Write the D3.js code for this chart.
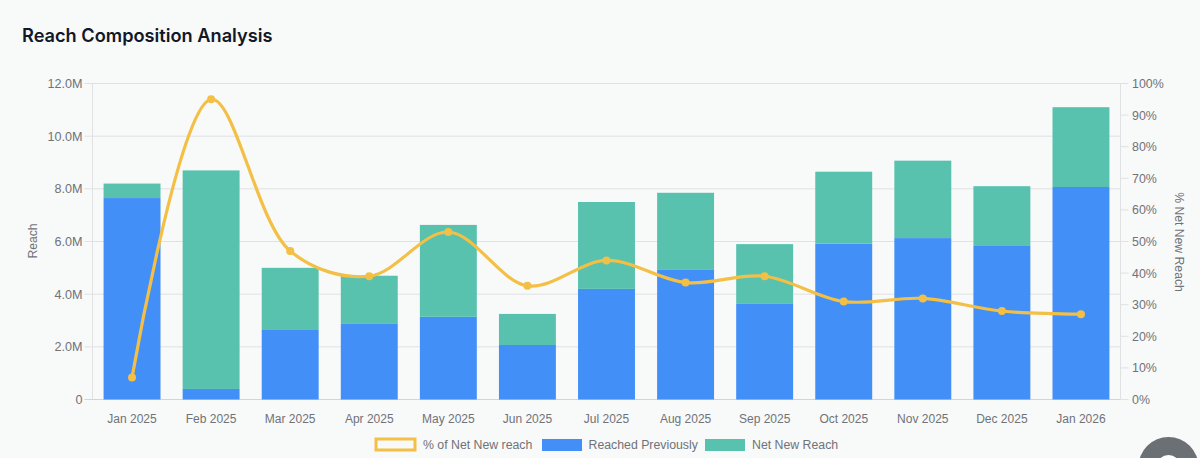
<!DOCTYPE html>
<html><head><meta charset="utf-8">
<script src="https://cdnjs.cloudflare.com/ajax/libs/d3/7.8.5/d3.min.js"></script>
<style>html,body{margin:0;padding:0;background:#fff;overflow:hidden}svg{display:block}</style>
</head><body><svg id="c" width="1200" height="458"></svg>
<script>
const months=["Jan 2025","Feb 2025","Mar 2025","Apr 2025","May 2025","Jun 2025","Jul 2025","Aug 2025","Sep 2025","Oct 2025","Nov 2025","Dec 2025","Jan 2026"];
const reachedPreviously=[7.65,0.4,2.64,2.87,3.14,2.07,4.2,4.92,3.63,5.92,6.13,5.83,8.07];
const netNewReach=[0.55,8.3,2.36,1.83,3.49,1.18,3.3,2.93,2.27,2.73,2.94,2.27,3.03];
const pctNetNew=[7,95,47,39,53,36,44,37,39,31,32,28,27];
const leftTicks=[0,2,4,6,8,10,12];
const rightTicks=[0,10,20,30,40,50,60,70,80,90,100];
const legendItems=["% of Net New reach","Reached Previously","Net New Reach"];
const titleText="Reach Composition Analysis";
const cBlue="#4290f7",cTeal="#58c2ae",cGold="#f3bf45",txt="#6f7378",grid="#dfe1e3",font="'Liberation Sans',Arial,sans-serif";
const svg=d3.select("#c");
const M={l:92.5,r:1120.5,t:83.5,b:399.5};
svg.append("rect").attr("x",-10).attr("y",-10).attr("width",1230).attr("height",490).attr("rx",18).attr("fill","#f8f9f9");
svg.append("text").attr("x",22).attr("y",41.5).attr("font-family","Inter,sans-serif").attr("font-weight",600).attr("font-size",18.2).attr("fill","#111827").text(titleText);
const x=d3.scaleBand().domain(d3.range(months.length)).range([M.l,M.r]).paddingInner(0.28).paddingOuter(0.14);
const y=d3.scaleLinear().domain([0,12]).range([M.b,M.t]);
const yR=d3.scaleLinear().domain([0,100]).range([M.b,M.t]);
const g=svg.append("g");
leftTicks.forEach(t=>{g.append("line").attr("x1",M.l-8).attr("x2",M.r).attr("y1",y(t)).attr("y2",y(t)).attr("stroke",t==0?"#d2d4d6":grid).attr("stroke-width",1);
 g.append("text").attr("x",M.l-10).attr("y",y(t)+4.5).attr("text-anchor","end").attr("font-family",font).attr("font-size",12.6).attr("fill",txt).text(t==0?"0":t.toFixed(1)+"M");});
g.append("line").attr("x1",M.l).attr("x2",M.l).attr("y1",M.t).attr("y2",M.b).attr("stroke",grid);
g.append("line").attr("x1",M.r).attr("x2",M.r).attr("y1",M.t).attr("y2",M.b).attr("stroke",grid);
rightTicks.forEach(t=>{g.append("line").attr("x1",M.r).attr("x2",M.r+8).attr("y1",yR(t)).attr("y2",yR(t)).attr("stroke",grid);
 g.append("text").attr("x",M.r+11.5).attr("y",yR(t)+4.5).attr("font-family",font).attr("font-size",12.4).attr("fill",txt).text(t+"%");});
months.forEach((m,i)=>{g.append("text").attr("x",x(i)+x.bandwidth()/2).attr("y",423).attr("text-anchor","middle").attr("font-family",font).attr("font-size",12).attr("fill",txt).text(m);});
svg.append("text").attr("transform",`translate(37,241) rotate(-90)`).attr("text-anchor","middle").attr("font-family",font).attr("font-size",12.2).attr("fill",txt).text("Reach");
svg.append("text").attr("transform",`translate(1175,242) rotate(90)`).attr("text-anchor","middle").attr("font-family",font).attr("font-size",12.2).attr("fill",txt).text("% Net New Reach");
svg.append("g").selectAll("rect").data(reachedPreviously).join("rect").attr("x",(d,i)=>x(i)).attr("width",x.bandwidth()).attr("y",d=>y(d)).attr("height",d=>y(0)-y(d)).attr("fill",cBlue);
svg.append("g").selectAll("rect").data(netNewReach).join("rect").attr("x",(d,i)=>x(i)).attr("width",x.bandwidth()).attr("y",(d,i)=>y(reachedPreviously[i]+d)).attr("height",d=>y(0)-y(d)).attr("fill",cTeal);
const line=d3.line().x((d,i)=>x(i)+x.bandwidth()/2).y(d=>yR(d)).curve(d3.curveCatmullRom.alpha(0.5));
svg.append("path").attr("d",line(pctNetNew)).attr("fill","none").attr("stroke",cGold).attr("stroke-width",3.2);
svg.append("g").selectAll("circle").data(pctNetNew).join("circle").attr("cx",(d,i)=>x(i)+x.bandwidth()/2).attr("cy",d=>yR(d)).attr("r",4).attr("fill",cGold);
const lg=svg.append("g").attr("font-family",font).attr("font-size",12.3).attr("fill",txt);
lg.append("rect").attr("x",376).attr("y",439).attr("width",39).attr("height",11).attr("fill","none").attr("stroke",cGold).attr("stroke-width",3);
lg.append("text").attr("x",423).attr("y",449).text(legendItems[0]);
lg.append("rect").attr("x",542).attr("y",439).attr("width",40).attr("height",12).attr("fill",cBlue);
lg.append("text").attr("x",588.5).attr("y",449).text(legendItems[1]);
lg.append("rect").attr("x",705).attr("y",439).attr("width",40).attr("height",12).attr("fill",cTeal);
lg.append("text").attr("x",752).attr("y",449).text(legendItems[2]);
svg.append("circle").attr("cx",1168.5).attr("cy",467).attr("r",30).attr("fill","#6b7075");
svg.append("circle").attr("cx",1168.5).attr("cy",467).attr("r",10.5).attr("fill","none").attr("stroke","#fff").attr("stroke-width",3);
</script></body></html>
